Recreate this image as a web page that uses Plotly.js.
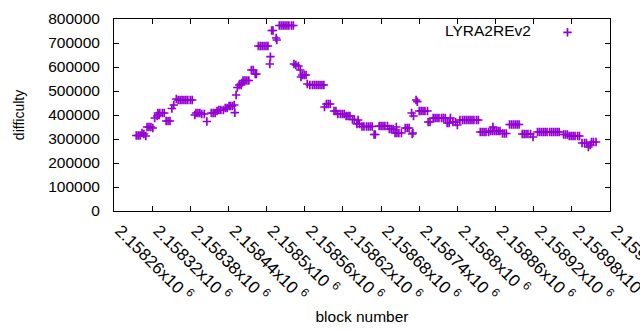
<!DOCTYPE html>
<html>
<head>
<meta charset="utf-8">
<script src="https://cdn.plot.ly/plotly-3.0.1.min.js"></script>
<style>html,body{margin:0;padding:0;background:#fff}#chart{width:640px;height:330px}</style>
</head>
<body>
<div id="chart"></div>
<script>
// block numbers (x)
const blocks = [
2158295,2158298,2158301,2158304,2158307,2158310,
2158312,2158315,2158318,2158321,
2158324,2158328,
2158329,2158331,2158332,2158336,2158339,
2158342,2158345,2158348,
2158351,2158354,
2158358,2158361,2158364,2158367,2158370,2158373,2158376,2158380,2158383,
2158387,2158389,2158392,2158395,2158398,2158402,
2158406,
2158413,2158416,2158419,2158422,
2158425,2158428,2158432,
2158435,2158438,2158441,
2158443,2158446,2158449,
2158450,
2158452,2158454,
2158457,2158460,2158461,
2158463,2158466,2158469,2158472,
2158476,2158479,
2158482,2158484,
2158487,2158490,2158493,2158496,2158499,2158502,
2158505,2158506,
2158508,2158510,
2158515,2158516,
2158520,2158523,2158526,2158529,2158532,2158535,2158539,2158542,
2158543,2158546,2158550,2158553,2158554,2158556,2158559,2158562,
2158564,2158568,2158572,2158575,2158578,2158581,2158584,2158587,2158590,
2158591,2158594,2158597,2158600,
2158606,2158609,
2158612,2158616,2158619,2158622,2158625,2158628,2158631,
2158635,2158638,2158642,2158644,2158646,
2158650,2158653,2158657,2158660,2158663,2158666,
2158669,2158671,
2158677,2158680,2158683,2158686,2158690,
2158693,2158696,2158699,
2158702,2158704,2158705,2158708,2158712,
2158718,2158721,2158724,
2158728,2158729,2158730,2158731,
2158735,2158737,
2158740,2158743,2158746,2158749,2158753,
2158754,2158757,
2158762,2158765,2158768,2158771,2158775,2158778,2158781,
2158784,2158787,2158789,2158793,2158797,2158800,
2158804,2158808,2158811,2158814,2158817,2158820,2158823,2158826,2158830,2158833,
2158836,2158839,2158842,2158845,2158849,
2158852,2158855,2158856,2158858,2158861,2158864,2158867,
2158871,2158874,2158877,
2158882,2158885,2158888,2158891,2158894,2158897,
2158902,2158905,2158908,2158911,2158915,2158919,
2158926,2158929,2158932,2158935,2158938,2158941,2158945,2158948,2158951,2158954,2158957,2158960,
2158967,2158970,2158973,
2158976,2158979,2158982,2158985,2158989,2158992,
2158996,2159000,2159003,
2159006,2159009,
2159011,2159014,2159018
];
// difficulty (y)
const difficulty = [
314600,314600,314600,325000,320800,312500,
350000,350000,350000,345800,
387500,395800,
408300,400000,408300,408300,408300,
375000,375000,375000,
427100,441700,
466700,462500,462500,462500,462500,462500,462500,462500,462500,
400000,408300,408300,408300,404200,404200,
372900,
408300,408300,408300,416700,
420800,420800,420800,
429200,429200,437500,
437500,437500,441700,
409600,
483300,514600,
525000,525000,533300,
543800,543800,543800,543800,
587500,587500,
570800,570800,
687500,687500,687500,687500,687500,687500,
612500,642900,
752100,752100,
720800,712500,
772900,772900,772900,772900,772900,772900,772900,772900,
612500,608300,604200,587500,558300,566700,566700,566700,
529200,525000,525000,525000,525000,525000,525000,525000,525000,
433300,445800,445800,445800,
416700,416700,
404200,404200,404200,404200,395800,395800,395800,
381300,381300,362500,379200,362500,
352100,352100,352100,352100,352100,352100,
318800,318800,
354200,354200,354200,354200,354200,
341700,341700,341700,
325000,350000,325000,325000,325000,
345800,345800,345800,
408300,320800,325000,395800,
462500,455400,
416700,416700,416700,416700,416700,
370800,370800,
387500,387500,387500,387500,387500,387500,387500,
366700,366700,387500,370800,370800,358300,
379200,379200,379200,379200,379200,379200,379200,379200,379200,379200,
329200,329200,329200,329200,329200,
333300,333300,350000,333300,333300,333300,333300,
322900,322900,322900,
360400,360400,360400,360400,360400,360400,
320800,320800,320800,320800,320800,308300,
329200,329200,329200,329200,329200,329200,329200,329200,329200,329200,329200,329200,
318800,318800,318800,
312500,312500,312500,312500,312500,312500,
283300,283300,283300,
266700,275000,
287500,287500,287500
];
const seriesName = 'LYRA2REv2';
const xTickVals = [2158260,2158320,2158380,2158440,2158500,2158560,2158620,2158680,2158740,2158800,2158860,2158920,2158980,2159040];
const xTickLabels = ['2.15826','2.15832','2.15838','2.15844','2.1585','2.15856','2.15862','2.15868','2.15874','2.1588','2.15886','2.15892','2.15898','2.15904'];
const yTickVals = [0,100000,200000,300000,400000,500000,600000,700000,800000];

const purple = '#9400d3';
const font = 'Liberation Sans, Arial, sans-serif';

const trace = {
  x: blocks, y: difficulty, type: 'scatter', mode: 'markers', name: '',
  marker: {symbol: 'cross-thin-open', size: 6, color: purple, line: {color: purple, width: 1.7}},
  showlegend: true, hoverinfo: 'x+y'
};

const layout = {
  width: 640, height: 330,
  margin: {l: 114, r: 30, t: 19, b: 119, pad: 0},
  paper_bgcolor: '#fff', plot_bgcolor: '#fff',
  font: {family: font, size: 15.5, color: '#000'},
  xaxis: {
    range: [2158260, 2159040], tickmode: 'array', tickvals: xTickVals,
    ticktext: xTickLabels.map(s => s + 'x10 <sup>6</sup>'),
    tickangle: 45, ticks: 'inside', ticklen: 5, tickcolor: '#000',
    showline: true, linecolor: '#000', linewidth: 1, mirror: 'ticks',
    showgrid: false, zeroline: false, tickfont: {family: font, size: 17},
    ticklabelstandoff: 2, ticklabelshift: 6, ticklabeloverflow: 'allow',
    title: {text: 'block number', font: {family: font, size: 15.5}, standoff: 6}
  },
  yaxis: {
    range: [0, 800000], tickmode: 'array', tickvals: yTickVals, tickformat: 'd',
    ticks: 'inside', ticklen: 5, tickcolor: '#000',
    showline: true, linecolor: '#000', linewidth: 1, mirror: 'ticks',
    showgrid: false, zeroline: false, tickfont: {family: font, size: 15.5},
    ticklabelstandoff: 10,
    title: {text: 'difficulty', font: {family: font, size: 14}, standoff: 20}
  },
  legend: {
    x: (593 - 114) / 496, xanchor: 'right', y: (211 - 32.7) / 192, yanchor: 'middle',
    bgcolor: 'rgba(0,0,0,0)', borderwidth: 0,
    title: {text: seriesName + '\u00a0\u00a0', side: 'left', font: {family: font, size: 15.5}},
    font: {family: font, size: 15.5}
  }
};

Plotly.newPlot('chart', [trace], layout, {displayModeBar: false, staticPlot: true});
</script>
</body>
</html>
